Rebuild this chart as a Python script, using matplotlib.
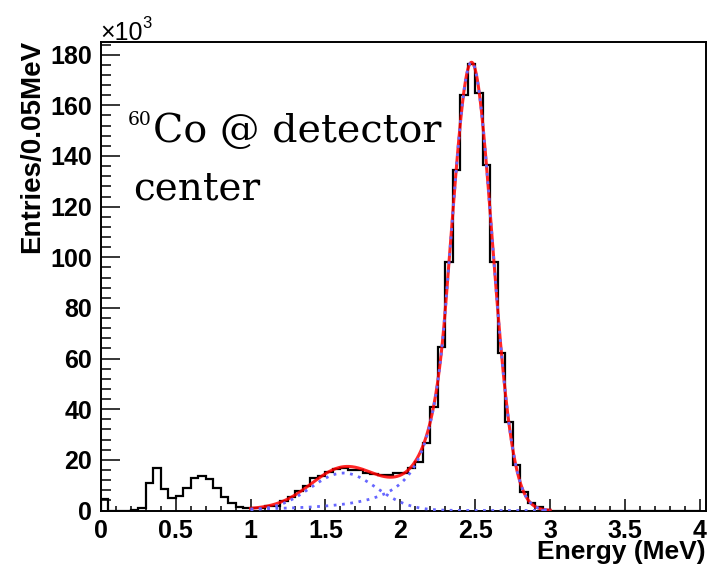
import numpy as np
from matplotlib import pyplot as plt
from matplotlib.ticker import MultipleLocator, FuncFormatter

plt.rcParams['font.family'] = ['Liberation Sans', 'DejaVu Sans']
plt.rcParams['font.weight'] = 'bold'
plt.rcParams['axes.labelweight'] = 'bold'

BIN_WIDTH = 0.05
E_MIN, E_MAX = 0.0, 4.0

# entries per 0.05 MeV bin, in units of 10^3
counts = [4.5, 0, 0, 0, 0.3, 1.0, 11.0, 16.7, 8.4, 4.9,
          5.8, 9.0, 12.8, 13.8, 12.4, 8.8, 5.5, 2.9, 1.2, 1.0,
          0.8, 0.8, 1.8, 1.9, 3.8, 5.5, 7.8, 9.7, 12.8, 13.8,
          15.4, 16.5, 16.7, 16.0, 15.9, 15.0, 14.6, 14.0, 14.0, 14.7,
          14.8, 16.7, 19.3, 26.8, 40.8, 64.7, 98.3, 134.5, 164.0, 176.3,
          165.0, 136.4, 98.3, 62.1, 35.1, 18.0, 7.4, 2.8, 1.2, 0.3] + [0] * 20

# fit results: broad gaussian + crystal-ball full energy peak
fit_range = (1.0, 3.0)
low_amp, low_mean, low_sigma = 14.8, 1.62, 0.22
peak_amp, peak_mean, peak_sigma = 177.0, 2.475, 0.138
cb_alpha, cb_n = 1.3, 3.0


def gauss(x, amp, mean, sigma):
    return amp * np.exp(-0.5 * ((x - mean) / sigma) ** 2)


def crystal_ball(x, amp, mean, sigma, alpha, n):
    t = (x - mean) / sigma
    a = (n / alpha) ** n * np.exp(-0.5 * alpha ** 2)
    b = n / alpha - alpha
    tail = a * np.abs(b - t) ** (-n)
    return amp * np.where(t > -alpha, np.exp(-0.5 * t ** 2), tail)


edges = np.linspace(E_MIN, E_MAX, len(counts) + 1)
xf = np.linspace(fit_range[0], fit_range[1], 800)
comp_low = gauss(xf, low_amp, low_mean, low_sigma)
comp_peak = crystal_ball(xf, peak_amp, peak_mean, peak_sigma, cb_alpha, cb_n)

fig = plt.figure(figsize=(7.14, 5.72), dpi=100)
ax = fig.add_axes([0.141, 0.1075, 0.8478, 0.819])

ax.stairs(counts, edges, baseline=0, color='black', lw=1.6, zorder=3)
ax.plot(xf, comp_low + comp_peak, color='red', lw=2.2, alpha=0.85, zorder=4)
ax.plot(xf, comp_low, color=(0.4, 0.4, 1.0), lw=2.0, ls=(0, (1, 2)), zorder=5)
ax.plot(xf, comp_peak, color=(0.4, 0.4, 1.0), lw=2.0, ls=(0, (1, 2)), zorder=5)

ax.set_xlim(0, 4.04)
ax.set_ylim(0, 185)

ax.xaxis.set_major_locator(MultipleLocator(0.5))
ax.xaxis.set_minor_locator(MultipleLocator(0.1))
ax.yaxis.set_major_locator(MultipleLocator(20))
ax.yaxis.set_minor_locator(MultipleLocator(4))
ax.xaxis.set_major_formatter(FuncFormatter(lambda v, p: '%g' % v))
ax.tick_params(axis='both', which='both', direction='in', width=1.1,
               top=False, right=False, labelsize=18)
ax.tick_params(axis='x', which='major', length=8.6, pad=6)
ax.tick_params(axis='x', which='minor', length=3.6)
ax.tick_params(axis='y', which='major', length=13.7, pad=6)
ax.tick_params(axis='y', which='minor', length=7.2)
for s in ax.spines.values():
    s.set_linewidth(1.4)

ax.set_xlabel('Energy (MeV)', fontsize=19, loc='right')
ax.xaxis.set_label_coords(1.0, -0.064)
ax.set_ylabel('Entries/0.05MeV', fontsize=20, loc='top')
ax.yaxis.set_label_coords(-0.092, 1.005)

# axis multiplier
ax.text(0.0, 1.004, '\u00d710', transform=ax.transAxes, fontsize=18,
        ha='left', va='baseline', fontweight='normal')
ax.text(0.069, 1.055, '3', transform=ax.transAxes, fontsize=12,
        ha='left', va='top', fontweight='normal')

# source label
serif = dict(transform=ax.transAxes, family='DejaVu Serif',
             fontweight='normal', va='baseline')
ax.text(0.0848, 0.823, '60', ha='right', fontsize=13.5, **serif)
ax.text(0.0864, 0.787, 'Co @ detector', fontsize=28.5, **serif)
ax.text(0.053, 0.663, 'center', fontsize=28, **serif)

fig.savefig('out.png', dpi=100)
